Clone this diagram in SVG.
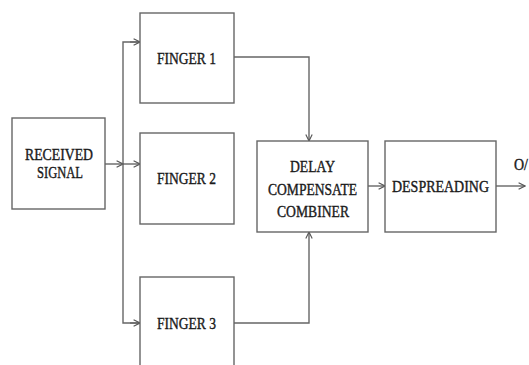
<svg xmlns="http://www.w3.org/2000/svg" width="529" height="365" viewBox="0 0 529 365">
<style>
.box{fill:#fff;stroke:#666;stroke-width:1.4}
.ln{fill:none;stroke:#666;stroke-width:1.4}
.t{font-family:"Liberation Serif","Times New Roman",serif;font-size:17px;fill:#1a1a1a;stroke:#1a1a1a;stroke-width:0.4;text-anchor:start}
</style>
<defs>
<marker id="ah" viewBox="0 0 10 10" refX="9" refY="5" markerWidth="8" markerHeight="8" markerUnits="userSpaceOnUse" orient="auto">
<path d="M1,1 L9,5 L1,9" fill="none" stroke="#555" stroke-width="1.4"/>
</marker>
</defs>
<rect width="529" height="365" fill="#fff"/>
<g id="connectors">
<path class="ln" d="M105,164 L123,164" marker-end="url(#ah)"/>
<path class="ln" d="M123,164 L140,164" marker-end="url(#ah)"/>
<path class="ln" d="M140,42 L123,42 L123,323 L140,323"/>
<path class="ln" d="M130,42 L140,42" marker-end="url(#ah)"/>
<path class="ln" d="M130,323 L140,323" marker-end="url(#ah)"/>
<path class="ln" d="M234,57 L309,57 L309,141" marker-end="url(#ah)"/>
<path class="ln" d="M234,323 L309,323 L309,232" marker-end="url(#ah)"/>
<path class="ln" d="M368,186 L385,186" marker-end="url(#ah)"/>
<path class="ln" d="M496,186 L525,186" marker-end="url(#ah)"/>
</g>
<g id="received">
<rect class="box" x="12" y="118" width="93" height="91"/>
<text class="t" x="25" y="160" textLength="68" lengthAdjust="spacingAndGlyphs">RECEIVED</text>
<text class="t" x="37" y="178" textLength="46" lengthAdjust="spacingAndGlyphs">SIGNAL</text>
</g>
<g id="finger1">
<rect class="box" x="140" y="13" width="94" height="90"/>
<text class="t" x="157" y="64" textLength="59" lengthAdjust="spacingAndGlyphs">FINGER 1</text>
</g>
<g id="finger2">
<rect class="box" x="140" y="133" width="94" height="91"/>
<text class="t" x="157" y="184" textLength="59" lengthAdjust="spacingAndGlyphs">FINGER 2</text>
</g>
<g id="finger3">
<rect class="box" x="140" y="277" width="94" height="100"/>
<text class="t" x="157" y="329" textLength="59" lengthAdjust="spacingAndGlyphs">FINGER 3</text>
</g>
<g id="delay">
<rect class="box" x="257" y="141" width="111" height="91"/>
<text class="t" x="290" y="172" textLength="45" lengthAdjust="spacingAndGlyphs">DELAY</text>
<text class="t" x="268" y="195" textLength="89" lengthAdjust="spacingAndGlyphs">COMPENSATE</text>
<text class="t" x="277" y="217" textLength="72" lengthAdjust="spacingAndGlyphs">COMBINER</text>
</g>
<g id="despreading">
<rect class="box" x="385" y="141" width="111" height="91"/>
<text class="t" x="392" y="192" textLength="97" lengthAdjust="spacingAndGlyphs">DESPREADING</text>
</g>
<text class="t" x="514" y="170" textLength="14" lengthAdjust="spacingAndGlyphs">O/</text>
</svg>
